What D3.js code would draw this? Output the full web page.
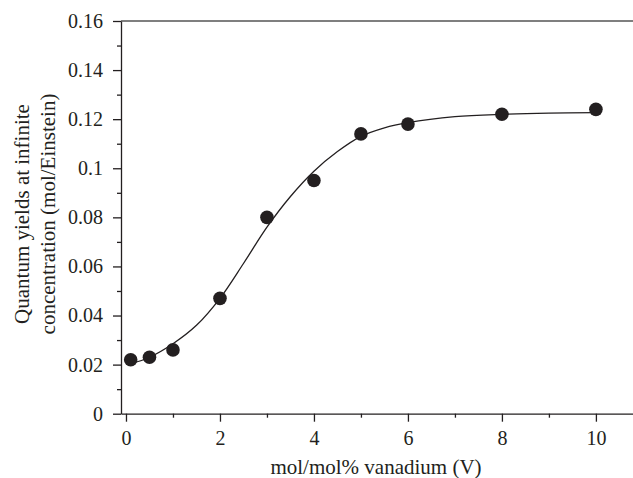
<!DOCTYPE html>
<html>
<head>
<meta charset="utf-8">
<script src="https://cdn.jsdelivr.net/npm/d3@7/dist/d3.min.js"></script>
<style>
  html, body { margin: 0; padding: 0; background: #fff; }
  svg { display: block; }
  text { font-family: "Liberation Serif", "DejaVu Serif", serif; fill: #231f20; }
</style>
</head>
<body>
<svg id="chart" width="633" height="478"></svg>
<script>
// ---- data ----
const pointX = [0.1, 0.5, 1, 2, 3, 4, 5, 6, 8, 10];
const pointY = [0.022, 0.023, 0.026, 0.047, 0.080, 0.095, 0.114, 0.118, 0.122, 0.124];
const fitX = [0.1, 0.5, 1, 1.5, 2, 2.5, 3, 3.5, 4, 4.5, 5, 5.5, 6, 7, 8, 9, 10];
const fitY = [0.0203, 0.0230, 0.0285, 0.0360, 0.0470, 0.0612, 0.0760, 0.0885, 0.0988, 0.1068, 0.1130, 0.1165, 0.1186, 0.1210, 0.1220, 0.1225, 0.1227];
const xMajorTicks = [0, 2, 4, 6, 8, 10];
const xMinorTicks = [1, 3, 5, 7, 9];
const yMajorTicks = [0, 0.02, 0.04, 0.06, 0.08, 0.1, 0.12, 0.14, 0.16];
const yTickLabels = ["0", "0.02", "0.04", "0.06", "0.08", "0.1", "0.12", "0.14", "0.16"];
const yMinorTicks = [0.01, 0.03, 0.05, 0.07, 0.09, 0.11, 0.13, 0.15];
const xTitle = "mol/mol% vanadium (V)";
const yTitle = ["Quantum yields at infinite", "concentration (mol/Einstein)"];

// ---- layout ----
const svg = d3.select("#chart");
const mLeft = 121, mTop = 21, mBottom = 413.7, mRight = 633.5;
const x = d3.scaleLinear().domain([-0.106, 10.8]).range([mLeft, mRight]);
const y = d3.scaleLinear().domain([0, 0.16]).range([mBottom, mTop]);
const ink = "#231f20";
const tickFont = 20;
const titleFont = 21;

// top line
svg.append("line")
  .attr("x1", mLeft).attr("x2", 633).attr("y1", y(0.16)).attr("y2", y(0.16))
  .attr("stroke", "#555").attr("stroke-width", 1.3);

// x axis
const gx = svg.append("g").attr("transform", `translate(0,${mBottom})`);
gx.call(d3.axisBottom(x).tickValues(xMajorTicks).tickSize(8).tickSizeOuter(0).tickPadding(9)
  .tickFormat(d3.format("d")));
gx.append("g").call(d3.axisBottom(x).tickValues(xMinorTicks).tickSize(4).tickSizeOuter(0).tickFormat(""))
  .select(".domain").remove();

// y axis
const gy = svg.append("g").attr("transform", `translate(${mLeft},0)`);
gy.call(d3.axisLeft(y).tickValues(yMajorTicks).tickSize(8).tickSizeOuter(0).tickPadding(10)
  .tickFormat((d, i) => yTickLabels[i]));
gy.append("g").call(d3.axisLeft(y).tickValues(yMinorTicks).tickSize(4).tickSizeOuter(0).tickFormat(""))
  .select(".domain").remove();

svg.selectAll(".domain").attr("stroke", ink).attr("stroke-width", 1.3);
svg.selectAll(".tick line").attr("stroke", ink).attr("stroke-width", 1.3);
svg.selectAll(".tick text")
  .attr("font-family", '"Liberation Serif", "DejaVu Serif", serif')
  .attr("font-size", tickFont).attr("fill", ink);

// fit curve
const line = d3.line().x(d => x(d[0])).y(d => y(d[1])).curve(d3.curveCatmullRom.alpha(0.5));
svg.append("path")
  .datum(fitX.map((v, i) => [v, fitY[i]]))
  .attr("d", line).attr("fill", "none").attr("stroke", ink).attr("stroke-width", 1.3);

// points
svg.append("g").selectAll("circle")
  .data(pointX.map((v, i) => [v, pointY[i]]))
  .join("circle")
  .attr("cx", d => x(d[0])).attr("cy", d => y(d[1])).attr("r", 6.8)
  .attr("fill", ink);

// titles
svg.append("text")
  .attr("x", 376).attr("y", 474)
  .attr("text-anchor", "middle").attr("font-size", titleFont)
  .text(xTitle);

const yc = 214;
yTitle.forEach((t, i) => {
  svg.append("text")
    .attr("transform", `translate(${29 + i * 26},${yc}) rotate(-90)`)
    .attr("text-anchor", "middle").attr("font-size", titleFont)
    .text(t);
});
</script>
</body>
</html>
